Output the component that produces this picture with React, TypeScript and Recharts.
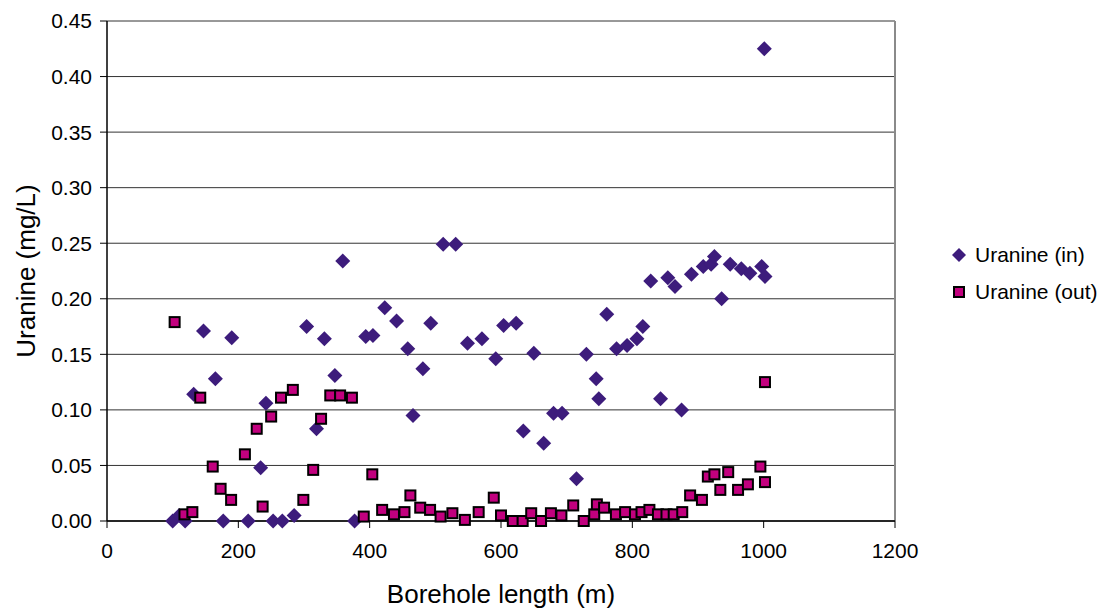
import React from 'react';
import { ScatterChart, Scatter, XAxis, YAxis, CartesianGrid, ReferenceLine, Label } from 'recharts';

// Borehole length (m) and uranine concentration (mg/L)
const inLength = [
  100, 110, 119, 132, 147, 165, 177, 190, 215, 234, 242, 253, 267, 285, 304, 319, 331, 347, 359, 377,
  394, 405, 423, 441, 458, 466, 481, 493, 512, 531, 549, 571, 592, 604, 623, 634, 650, 665, 680, 693,
  715, 730, 745, 749, 761, 776, 792, 807, 816, 828, 843, 854, 865, 875, 890, 908, 920, 925, 936, 949,
  966, 979, 997, 1002, 1001,
];
const inValue = [
  0, 0.005, 0, 0.114, 0.171, 0.128, 0, 0.165, 0, 0.048, 0.106, 0, 0, 0.005, 0.175, 0.083, 0.164, 0.131, 0.234, 0,
  0.166, 0.167, 0.192, 0.18, 0.155, 0.095, 0.137, 0.178, 0.249, 0.249, 0.16, 0.164, 0.146, 0.176, 0.178, 0.081, 0.151, 0.07, 0.097, 0.097,
  0.038, 0.15, 0.128, 0.11, 0.186, 0.155, 0.158, 0.164, 0.175, 0.216, 0.11, 0.219, 0.211, 0.1, 0.222, 0.229, 0.231, 0.238, 0.2, 0.231,
  0.227, 0.223, 0.229, 0.22, 0.425,
];

const outLength = [
  103, 118, 130, 142, 161, 173, 189, 210, 228, 237, 250, 265, 283, 299, 314, 326, 340, 355, 373, 391,
  404, 419, 437, 453, 462, 477, 492, 508, 526, 545, 566, 589, 600, 618, 633, 646, 661, 676, 692, 710,
  726, 742, 746, 757, 775, 789, 804, 814, 826, 839, 852, 863, 876, 888, 906, 915, 925, 934, 946, 961,
  976, 995, 1002, 1002,
];
const outValue = [
  0.179, 0.006, 0.008, 0.111, 0.049, 0.029, 0.019, 0.06, 0.083, 0.013, 0.094, 0.111, 0.118, 0.019, 0.046, 0.092, 0.113, 0.113, 0.111, 0.004,
  0.042, 0.01, 0.006, 0.008, 0.023, 0.012, 0.01, 0.004, 0.007, 0.001, 0.008, 0.021, 0.005, 0, 0, 0.007, 0, 0.007, 0.005, 0.014,
  0, 0.006, 0.015, 0.012, 0.006, 0.008, 0.006, 0.008, 0.01, 0.006, 0.006, 0.006, 0.008, 0.023, 0.019, 0.04, 0.042, 0.028, 0.044, 0.028,
  0.033, 0.049, 0.035, 0.125,
];

const xTicks = [0, 200, 400, 600, 800, 1000, 1200];
const yTicks = [0, 0.05, 0.1, 0.15, 0.2, 0.25, 0.3, 0.35, 0.4, 0.45];

const IN_COLOR = '#3d1c7c';
const OUT_COLOR = '#c2007e';
const FONT = 'Arial, "Liberation Sans", sans-serif';

const inData = inLength.map((x, i) => ({ x, y: inValue[i] }));
const outData = outLength.map((x, i) => ({ x, y: outValue[i] }));

const Diamond = (props: any) => {
  const { cx, cy } = props;
  const r = 7.5;
  return <polygon points={`${cx},${cy - r} ${cx + r},${cy} ${cx},${cy + r} ${cx - r},${cy}`} fill={IN_COLOR} />;
};

const Square = (props: any) => {
  const { cx, cy } = props;
  return <rect x={cx - 5} y={cy - 5} width={10} height={10} fill={OUT_COLOR} stroke="#000" strokeWidth={2} />;
};

// legend sits to the right of the plot, outside the chart's layout
const LegendBox = () => (
  <div style={{ position: 'absolute', left: 951, top: 236, fontFamily: FONT, fontSize: 21, color: '#000' }}>
    <div style={{ display: 'flex', alignItems: 'center', height: 37 }}>
      <svg width={16} height={16} style={{ marginRight: 8 }}>
        <polygon points="8,1 15,8 8,15 1,8" fill={IN_COLOR} />
      </svg>
      Uranine (in)
    </div>
    <div style={{ display: 'flex', alignItems: 'center', height: 37 }}>
      <svg width={16} height={16} style={{ marginRight: 8 }}>
        <rect x={3} y={3} width={10} height={10} fill={OUT_COLOR} stroke="#000" strokeWidth={2} />
      </svg>
      Uranine (out)
    </div>
  </div>
);

export default function App() {
  const tickStyle = { fontSize: 21, fill: '#000', fontFamily: FONT };
  return (
    <div style={{ position: 'relative', width: 1107, height: 610, background: '#fff' }}>
      <style>{'body{margin:0}'}</style>
      <ScatterChart width={1107} height={610} margin={{ top: 21, right: 212, bottom: 0, left: 0 }}>
        <CartesianGrid horizontal vertical={false} stroke="#333" strokeWidth={1} />
        <XAxis
          type="number"
          dataKey="x"
          domain={[0, 1200]}
          ticks={xTicks}
          height={89}
          tickSize={7}
          tickMargin={15}
          axisLine={{ stroke: '#000', strokeWidth: 1.5 }}
          tickLine={{ stroke: '#000' }}
          tick={tickStyle}
        >
          <Label value="Borehole length (m)" position="insideBottom" offset={7} style={{ fontSize: 26, fill: '#000', fontFamily: FONT }} />
        </XAxis>
        <YAxis
          type="number"
          dataKey="y"
          domain={[0, 0.45]}
          ticks={yTicks}
          width={107}
          tickSize={7}
          tickMargin={8}
          tickFormatter={(v: number) => v.toFixed(2)}
          axisLine={{ stroke: '#000', strokeWidth: 1.5 }}
          tickLine={{ stroke: '#000' }}
          tick={tickStyle}
        >
          <Label
            value="Uranine (mg/L)"
            angle={-90}
            position="insideLeft"
            offset={26}
            style={{ fontSize: 26, fill: '#000', fontFamily: FONT, textAnchor: 'middle' }}
          />
        </YAxis>
        <ReferenceLine x={1200} stroke="#8a8a8a" strokeWidth={2} />
        <Scatter name="Uranine (in)" data={inData} shape={Diamond} isAnimationActive={false} />
        <Scatter name="Uranine (out)" data={outData} shape={Square} isAnimationActive={false} />
      </ScatterChart>
      <LegendBox />
    </div>
  );
}
